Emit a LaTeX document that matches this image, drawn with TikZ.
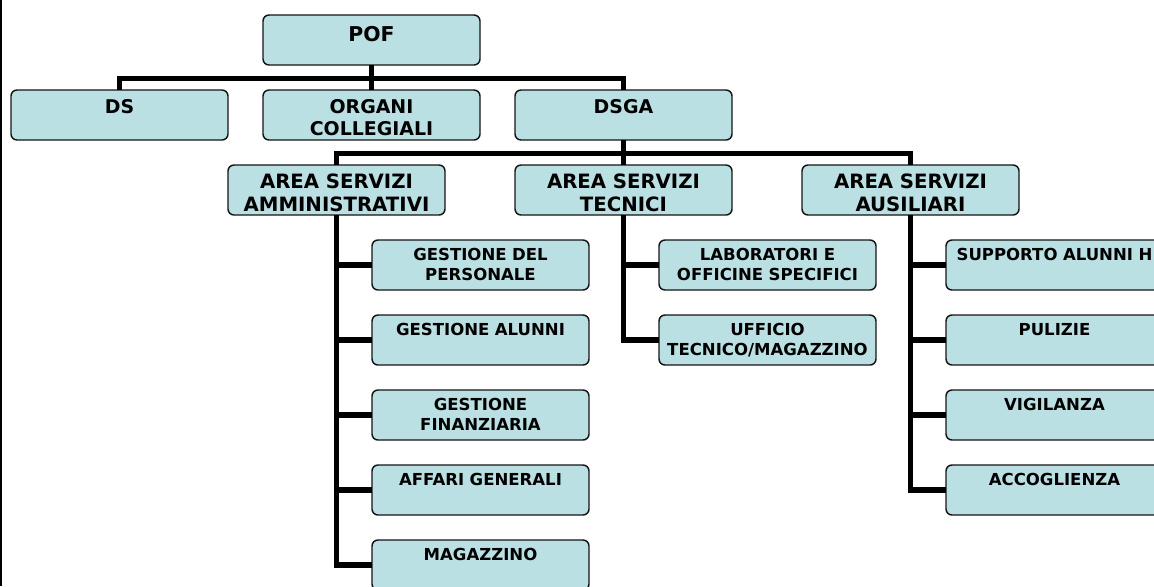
\documentclass[tikz,border=0pt]{standalone}
\usepackage{fontspec}
\setmainfont{DejaVu Sans}
\usepackage{xcolor}
\usetikzlibrary{positioning}
\definecolor{boxfill}{RGB}{187,224,227}
\definecolor{ink}{RGB}{20,20,20}

\begin{document}
\begin{tikzpicture}[
    x=0.75pt, y=-0.75pt,
    node distance=18.75pt and 26.25pt,
    box/.style={rectangle, rounded corners=4.5pt, draw=ink, fill=boxfill,
                line width=1.1pt, text width=162.75pt, align=center,
                inner sep=0pt, outer sep=0pt},
    headbox/.style={box, font=\bfseries\fontsize{15.3pt}{18pt}\selectfont,
                text height=20pt, text depth=17.5pt},
    unitbox/.style={box, font=\bfseries\fontsize{14.2pt}{16.5pt}\selectfont,
                text height=17.25pt, text depth=20.25pt},
    areabox/.style={box, font=\bfseries\fontsize{14.8pt}{17.25pt}\selectfont,
                text height=17.25pt, text depth=20.25pt},
    taskbox/.style={box, font=\bfseries\fontsize{12.4pt}{14.5pt}\selectfont,
                text height=15.5pt, text depth=22pt},
    link/.style={line width=4.2pt, draw=black}
  ]
    \useasboundingbox (0,0) rectangle (1154,586);
    \clip (0,0) rectangle (1154,586);
    \draw[line width=1.5pt] (1,0) -- (1,586);

    % top level
    \node[unitbox, anchor=north west] (ds) at (11,90) {DS};
    \node[unitbox, right=of ds] (org) {ORGANI\\COLLEGIALI};
    \node[unitbox, right=of org] (dsga) {DSGA};
    \node[headbox, above=of org] (pof) {POF};

    % areas
    \node[areabox, below=of dsga] (ast) {AREA SERVIZI\\TECNICI};
    \node[areabox, left=52.5pt of ast] (asa) {AREA SERVIZI\\AMMINISTRATIVI};
    \node[areabox, right=52.5pt of ast] (aus) {AREA SERVIZI\\AUSILIARI};

    % administrative services
    \node[taskbox, below=of asa, xshift=108pt] (gpers) {GESTIONE DEL\\PERSONALE};
    \node[taskbox, below=of gpers] (galun) {GESTIONE ALUNNI};
    \node[taskbox, below=of galun] (gfin) {GESTIONE\\FINANZIARIA};
    \node[taskbox, below=of gfin] (affari) {AFFARI GENERALI};
    \node[taskbox, below=of affari] (magaz) {MAGAZZINO};

    % technical services
    \node[taskbox, below=of ast, xshift=108pt] (lab) {LABORATORI E\\OFFICINE SPECIFICI};
    \node[taskbox, below=of lab] (uff) {UFFICIO\\TECNICO/MAGAZZINO};

    % auxiliary services
    \node[taskbox, below=of aus, xshift=108pt] (supp) {SUPPORTO ALUNNI H};
    \node[taskbox, below=of supp] (puliz) {PULIZIE};
    \node[taskbox, below=of puliz] (vigil) {VIGILANZA};
    \node[taskbox, below=of vigil] (accog) {ACCOGLIENZA};

    \draw[link] (pof) -- (org);
    \draw[link] (ds.north) -- ++(0,-11.5) -| (dsga.north);
    \draw[link] (dsga) -- (ast);
    \draw[link] (asa.north) -- ++(0,-11.5) -| (aus.north);
    \foreach \t in {gpers, galun, gfin, affari, magaz}
      \draw[link] (asa.south) |- (\t.west);
    \foreach \t in {lab, uff}
      \draw[link] (ast.south) |- (\t.west);
    \foreach \t in {supp, puliz, vigil, accog}
      \draw[link] (aus.south) |- (\t.west);
  \end{tikzpicture}
\end{document}
